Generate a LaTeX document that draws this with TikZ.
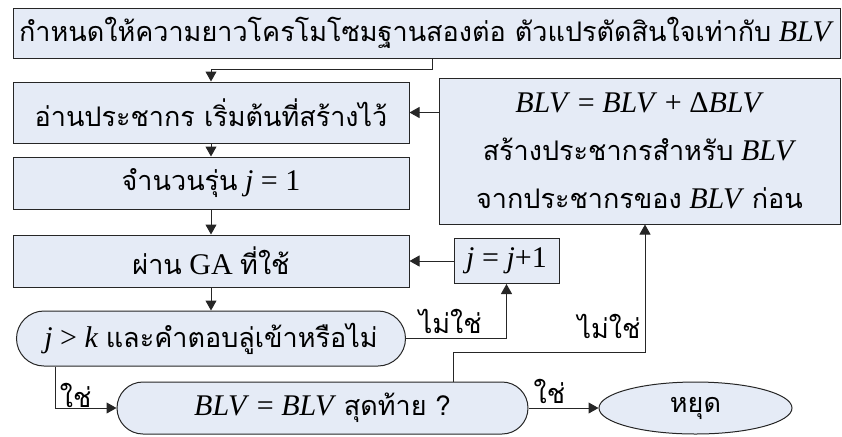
\documentclass[tikz,border=0pt]{standalone}
\usepackage{fontspec}
\setmainfont{Liberation Serif}
\newfontfamily\thaifont[Script=Thai,Scale=0.9]{Loma}
\usetikzlibrary{arrows.meta,positioning,shapes.geometric,shapes.misc}
\definecolor{boxfill}{RGB}{229,235,246}
\newcommand{\tx}[1]{{\thaifont #1}}
\newcommand{\mv}[1]{\textit{#1}}
\tikzset{
  block/.style={draw=black!85, fill=boxfill, align=center, inner sep=2pt, line width=0.5pt,
    font=\fontsize{15pt}{24pt}\selectfont},
  proc/.style={block, rectangle},
  dec/.style={block, rounded rectangle},
  term/.style={block, ellipse},
  lbl/.style={font=\fontsize{15pt}{17pt}\selectfont, inner sep=2pt},
  arrow/.style={-{Triangle[length=5pt,width=5.5pt]}, draw=black!85, line width=0.5pt}
}
\begin{document}
\begin{tikzpicture}
  \useasboundingbox (0,0) rectangle (421pt,-218pt);
  % main column
  \node[proc, minimum width=413.5pt, minimum height=25pt] (init) at (213.25pt,-16.5pt)
    {\tx{กำหนดให้ความยาวโครโมโซมฐานสองต่อ ตัวแปรตัดสินใจเท่ากับ} \mv{BLV}};
  \node[proc, minimum width=198pt, minimum height=30.5pt, below right=11.5pt and 0pt of init.south west] (read)
    {\tx{อ่านประชากร เริ่มต้นที่สร้างไว้}};
  \node[proc, minimum width=198pt, minimum height=26pt, below=6.5pt of read] (gen)
    {\tx{จำนวนรุ่น} \mv{j} = 1};
  \node[proc, minimum width=198pt, minimum height=26pt, below=12.5pt of gen] (ga)
    {\tx{ผ่าน} GA \tx{ที่ใช้}};
  \node[dec, minimum width=198.5pt, minimum height=27.5pt, below=11.5pt of ga] (conv)
    {\mv{j} > \mv{k} \tx{และคำตอบลู่เข้าหรือไม่}};
  \node[dec, minimum width=209.5pt, minimum height=26pt] (final) at (161.25pt,-204pt)
    {\mv{BLV} = \mv{BLV} \tx{สุดท้าย ?}};
  \node[term, minimum width=96.5pt, minimum height=26pt, right=35pt of final] (stop) {\tx{หยุด}};

  % right side
  \node[proc, minimum width=200.5pt, minimum height=73pt] (blv) at (319.75pt,-75.5pt)
    {\mv{BLV} = \mv{BLV} + Δ\mv{BLV}\\ \tx{สร้างประชากรสำหรับ} \mv{BLV}\\ \tx{จากประชากรของ} \mv{BLV} \tx{ก่อน}};
  \node[proc, minimum width=52.5pt, minimum height=22.5pt, right=22pt of ga] (inc) {\mv{j} = \mv{j}+1};

  \draw[arrow] ([xshift=2.75pt]init.south) -- ++(0,-5.5pt) -| (read.north);
  \draw[arrow] (read.south) -- (gen.north);
  \draw[arrow] (gen.south) -- (ga.north);
  \draw[arrow] (ga.south) -- (conv.north);
  \draw[arrow] (blv.west |- read.east) -- (read.east);
  \draw[arrow] (inc.west) -- (ga.east);

  % loops
  \draw[arrow] (conv.east) -| node[pos=0.22, above, lbl] {\tx{ไม่ใช่}} (inc.south);
  \draw[arrow] ([xshift=-77.75pt]conv.south) |- node[pos=0.35, right, lbl] {\tx{ใช่}} (final.west);
  \draw[arrow] (final.east) -- node[pos=0.3, above, lbl] {\tx{ใช่}} (stop.west);
  \draw[arrow] ([xshift=65.25pt]final.north) -- ++(0,14.5pt) -| node[pos=0.6, left, lbl] {\tx{ไม่ใช่}} ([xshift=2.75pt]blv.south);
\end{tikzpicture}
\end{document}
